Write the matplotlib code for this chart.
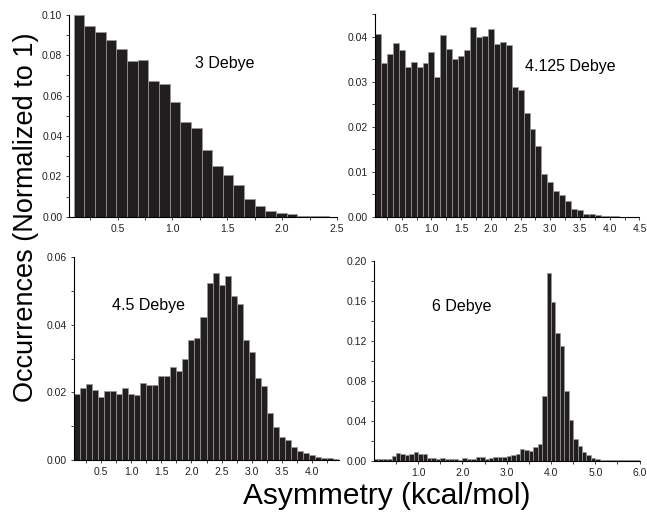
import numpy as np
import matplotlib
matplotlib.use("Agg")
import matplotlib.pyplot as plt
from matplotlib.ticker import MultipleLocator, FormatStrFormatter

plt.rcParams['font.family'] = ['Liberation Sans', 'DejaVu Sans']

# Occurrence histograms (normalized), one per dipole moment
d3_vals = [0.100, 0.0944, 0.0916, 0.0874, 0.0831, 0.0770, 0.0775, 0.0673, 0.0656,
           0.0569, 0.0468, 0.0438, 0.0331, 0.0253, 0.0205, 0.0157, 0.0086, 0.0053,
           0.0028, 0.0020, 0.0012, 0.0005, 0.0005, 0.0002]
d4125_vals = [0.0405, 0.0342, 0.0362, 0.0385, 0.0370, 0.0332, 0.0343, 0.0333, 0.0341,
              0.0365, 0.0311, 0.0403, 0.0373, 0.0350, 0.0357, 0.0370, 0.0421, 0.0400,
              0.0401, 0.0417, 0.0383, 0.0389, 0.0381, 0.0288, 0.0282, 0.0230, 0.0194,
              0.0157, 0.0095, 0.0078, 0.0058, 0.0048, 0.0036, 0.0018, 0.0015, 0.0006,
              0.0006, 0.0005, 0.0002, 0.0002, 0.0002, 0.0001]
d45_vals = [0.0195, 0.0212, 0.0225, 0.0208, 0.0186, 0.0205, 0.0205, 0.0196, 0.0214,
            0.0196, 0.0191, 0.0229, 0.0223, 0.0221, 0.0250, 0.0250, 0.0274, 0.0262,
            0.0299, 0.0356, 0.0362, 0.0424, 0.0524, 0.0554, 0.0518, 0.0545, 0.0485,
            0.0461, 0.0355, 0.0320, 0.0242, 0.0218, 0.0139, 0.0098, 0.0068, 0.0059,
            0.0039, 0.0028, 0.0021, 0.0015, 0.0009, 0.0006, 0.0005, 0.0003]
d6_vals = [0.0015, 0.0015, 0.0015, 0.0020, 0.0050, 0.0075, 0.0068, 0.0060, 0.0068,
           0.0085, 0.0065, 0.0065, 0.0030, 0.0027, 0.0020, 0.0025, 0.0015, 0.0015,
           0.0015, 0.0010, 0.0025, 0.0017, 0.0015, 0.0035, 0.0033, 0.0020, 0.0028,
           0.0035, 0.0040, 0.0038, 0.0043, 0.0057, 0.0063, 0.0113, 0.0107, 0.0097,
           0.0133, 0.0167, 0.0647, 0.1873, 0.1590, 0.1273, 0.1150, 0.0697, 0.0403,
           0.0220, 0.0147, 0.0083, 0.0053, 0.0027, 0.0013, 0.0010, 0.0010, 0.0010,
           0.0007, 0.0007, 0.0007, 0.0004, 0.0004, 0.0004]

labels = ['3 Debye', '4.125 Debye', '4.5 Debye', '6 Debye']

# panel setup: values, bin start, bin end, xlim, ylim, ticks, label pos
panels = [
    dict(vals=d3_vals, x0=0.10, x1=2.43, xlim=(0.06, 2.5), ylim=(0, 0.10),
         xmaj=0.5, xmin=0.25, ymaj=0.02, ymin=0.01,
         rect=[0.1071, 0.5809, 0.4138, 0.3901], lab=(0.58, 0.76)),
    dict(vals=d4125_vals, x0=0.05, x1=4.25, xlim=(0.05, 4.5), ylim=(0, 0.045),
         xmaj=0.5, xmin=0.25, ymaj=0.01, ymin=0.005,
         rect=[0.5796, 0.5803, 0.4088, 0.3926], lab=(0.74, 0.74)),
    dict(vals=d45_vals, x0=0.05, x1=4.45, xlim=(0.05, 4.45), ylim=(0, 0.06),
         xmaj=0.5, xmin=0.25, ymaj=0.02, ymin=0.01,
         rect=[0.1144, 0.1103, 0.4096, 0.3921], lab=(0.28, 0.76)),
    dict(vals=d6_vals, x0=0.0, x1=6.0, xlim=(0.005, 6.0), ylim=(0, 0.20),
         xmaj=1.0, xmin=0.5, ymaj=0.04, ymin=0.02,
         rect=[0.5781, 0.1089, 0.4104, 0.3868], lab=(0.33, 0.77)),
]

fig = plt.figure(figsize=(6.47, 5.17), dpi=100)

for p, lab in zip(panels, labels):
    ax = fig.add_axes(p['rect'])
    edges = np.linspace(p['x0'], p['x1'], len(p['vals']) + 1)
    ax.bar(edges[:-1], p['vals'], width=np.diff(edges), align='edge',
           color='#221e1f', edgecolor='#9a9a9a', linewidth=0.5)
    ax.set_xlim(*p['xlim'])
    ax.set_ylim(*p['ylim'])
    ax.spines['top'].set_visible(False)
    ax.spines['right'].set_visible(False)
    ax.spines['left'].set_linewidth(0.8)
    ax.spines['bottom'].set_linewidth(0.8)
    ax.xaxis.set_major_locator(MultipleLocator(p['xmaj']))
    ax.xaxis.set_minor_locator(MultipleLocator(p['xmin']))
    ax.yaxis.set_major_locator(MultipleLocator(p['ymaj']))
    ax.yaxis.set_minor_locator(MultipleLocator(p['ymin']))
    ax.xaxis.set_major_formatter(FormatStrFormatter('%.1f'))
    ax.yaxis.set_major_formatter(FormatStrFormatter('%.2f'))
    ax.tick_params(which='both', direction='out', length=2.5, width=0.6,
                   labelsize=7.5, colors='#222222', pad=2.5)
    ax.text(p['lab'][0], p['lab'][1], lab, transform=ax.transAxes,
            fontsize=11.5, ha='center', va='center')

fig.text(0.597, 1 - 496 / 517, 'Asymmetry (kcal/mol)', fontsize=21.5,
         ha='center', va='center')
fig.text(0.040, 1 - 217 / 517, 'Occurrences (Normalized to 1)', fontsize=19.5,
         ha='center', va='center', rotation=90)

fig.savefig('out.png', dpi=100)
